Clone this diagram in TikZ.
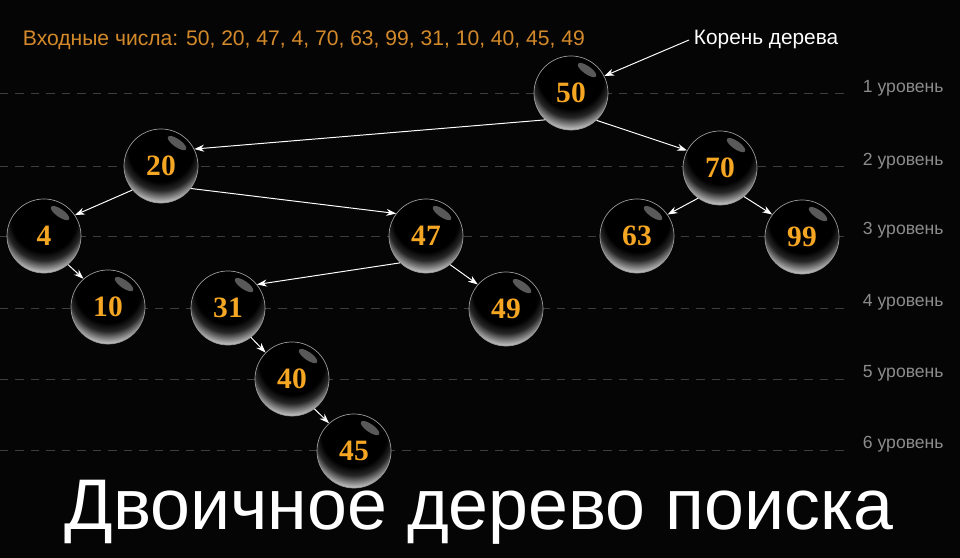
\documentclass[tikz,border=0pt]{standalone}
\usepackage{fontspec}
\setmainfont{Liberation Sans}
\newfontfamily\numfont{Liberation Serif}
\usetikzlibrary{arrows.meta}

\definecolor{bg}{RGB}{5,5,5}
\definecolor{numorange}{RGB}{245,166,35}
\definecolor{inputorange}{RGB}{212,138,42}
\definecolor{lvlgray}{RGB}{140,140,140}
\definecolor{guidegray}{RGB}{62,62,62}

\pgfdeclareradialshading{glassball}{\pgfpoint{0bp}{20bp}}{color(0bp)=(black); color(22bp)=(black); color(26bp)=(black!85!white); color(32bp)=(black!22!white); color(50bp)=(black!22!white)}

\tikzset{
  ball/.style={circle, minimum size=1.85cm, inner sep=0pt, shade, shading=glassball,
    draw=black!40!white, line width=0.5pt, text=numorange,
    font=\numfont\bfseries\fontsize{21}{21}\selectfont,
    path picture={\fill[white, fill opacity=.35] ([shift={(55:28)}]path picture bounding box.center) circle [x radius=11, y radius=4, rotate=-35];}},
  link/.style={white, line width=0.7pt, -{Stealth[length=7pt,width=5pt]}},
  guide/.style={guidegray, line width=0.6pt, dash pattern=on 6pt off 5pt},
  lvl/.style={anchor=west, text=lvlgray, font=\fontsize{12.5}{12.5}\selectfont}
}

\begin{document}
\begin{tikzpicture}[x=0.025cm, y=0.025cm]
    \useasboundingbox (0,0) rectangle (960,558);
    \fill[bg] (0,0) rectangle (960,558);
    % level lines
    \draw[guide] (0,465) -- (845,465);
    \draw[guide] (0,392) -- (845,392);
    \draw[guide] (0,322) -- (845,322);
    \draw[guide] (0,250) -- (845,250);
    \draw[guide] (0,179) -- (845,179);
    \draw[guide] (0,108) -- (845,108);
    \node[lvl] (lvl1) at (858,470) {1 уровень};
    \node[lvl] (lvl2) at (858,397) {2 уровень};
    \node[lvl] (lvl3) at (858,328) {3 уровень};
    \node[lvl] (lvl4) at (858,256) {4 уровень};
    \node[lvl] (lvl5) at (858,185) {5 уровень};
    \node[lvl] (lvl6) at (858,114) {6 уровень};
    % texts
    \node[anchor=west, text=inputorange, font=\fontsize{15}{15}\selectfont] (input) at (18,518)
        {Входные числа: 50, 20, 47, 4, 70, 63, 99, 31, 10, 40, 45, 49};
    \node[anchor=west, text=white, font=\fontsize{14.8}{14.8}\selectfont] (rootlbl) at (689,518) {Корень дерева};
    \node[anchor=base, text=white, font=\fontsize{51}{51}\selectfont] (title) at (479,28) {Двоичное дерево поиска};
    % level 1
    \node[ball] (n50) at (571,465) {50};
    % level 2
    \node[ball] (n20) at (161,392) {20};
    \node[ball] (n70) at (720,390) {70};
    % level 3
    \node[ball] (n4) at (44,322) {4};
    \node[ball] (n47) at (426,322) {47};
    \node[ball] (n63) at (637,322) {63};
    \node[ball] (n99) at (802,321) {99};
    % level 4
    \node[ball] (n10) at (108,251) {10};
    \node[ball] (n31) at (228,250) {31};
    \node[ball] (n49) at (506,249) {49};
    % level 5 and 6
    \node[ball] (n40) at (292,179) {40};
    \node[ball] (n45) at (354,107) {45};
    % the links
    \draw[link] (rootlbl.west) -- (n50.27);
    \draw[link] (n50.226) -- (n20.27);
    \draw[link] (n50.313) -- (n70.152);
    \draw[link] (n20.220) -- (n4.34);
    \draw[link] (n20.323) -- (n47.143);
    \draw[link] (n4.310) -- (n10.131);
    \draw[link] (n47.226) -- (n31.39);
    \draw[link] (n47.310) -- (n49.139);
    \draw[link] (n31.308) -- (n40.135);
    \draw[link] (n40.307) -- (n45.132);
    \draw[link] (n70.234) -- (n63.35);
    \draw[link] (n70.310) -- (n99.143);
\end{tikzpicture}
\end{document}
